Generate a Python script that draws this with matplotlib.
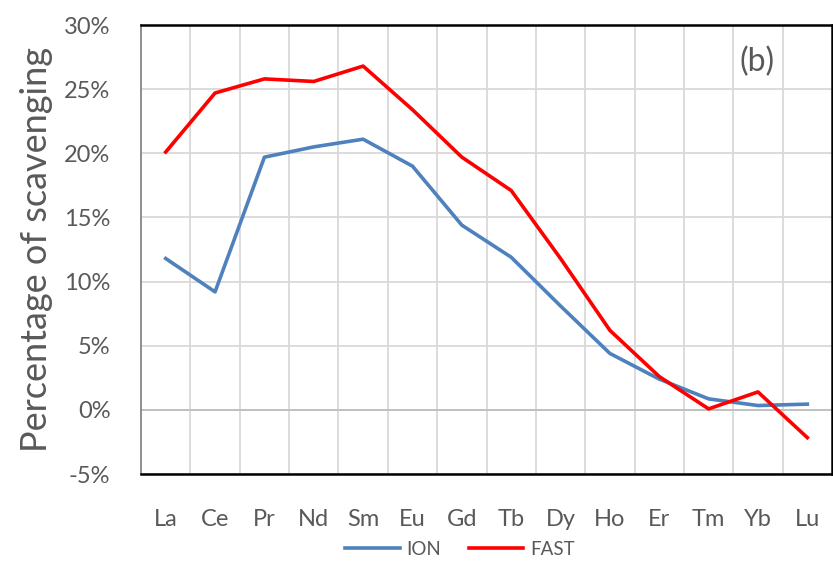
import numpy as np
import matplotlib.pyplot as plt
from matplotlib.ticker import FixedLocator, FuncFormatter

plt.rcParams['font.family'] = ['Lato', 'DejaVu Sans']

elements = ['La', 'Ce', 'Pr', 'Nd', 'Sm', 'Eu', 'Gd', 'Tb', 'Dy', 'Ho', 'Er', 'Tm', 'Yb', 'Lu']
ion = [11.8, 9.2, 19.7, 20.5, 21.1, 19.0, 14.4, 11.9, 8.1, 4.4, 2.4, 0.86, 0.34, 0.45]
fast = [20.1, 24.7, 25.8, 25.6, 26.8, 23.4, 19.7, 17.1, 11.8, 6.2, 2.6, 0.08, 1.4, -2.16]

text_col = '#595959'

fig = plt.figure(figsize=(8.33, 5.61), dpi=100)
ax = fig.add_axes([0.1693, 0.155, 0.8295, 0.8004])

x = np.arange(len(elements))
ax.plot(x, ion, color='#4F81BD', lw=2.6, label='ION', solid_joinstyle='round', zorder=3)
ax.plot(x, fast, color='#FF0000', lw=2.6, label='FAST', solid_joinstyle='round', zorder=4)

ax.set_xlim(-0.5, len(elements) - 0.5)
ax.set_ylim(-5, 30)
ax.set_xticks(x)
ax.set_xticklabels(elements, fontsize=17, color=text_col)
ax.xaxis.set_minor_locator(FixedLocator(np.arange(0.5, len(elements) - 1, 1)))
ax.set_yticks(np.arange(-5, 31, 5))
ax.yaxis.set_major_formatter(FuncFormatter(lambda v, p: f'{v:.0f}%'))
ax.tick_params(axis='y', labelsize=17, labelcolor=text_col, length=0, pad=22)
ax.tick_params(axis='x', which='both', length=0, pad=25)

ax.grid(axis='y', which='major', color='#d9d9d9', lw=1.3)
ax.grid(axis='x', which='minor', color='#d9d9d9', lw=1.3)
ax.axhline(0, color='#bfbfbf', lw=1.3, zorder=2)
ax.set_axisbelow(True)

for s in ['top', 'right', 'bottom']:
    ax.spines[s].set_color('black')
    ax.spines[s].set_linewidth(1.8)
ax.spines['left'].set_color('#868686')
ax.spines['left'].set_linewidth(1.3)

ax.set_ylabel('Percentage of scavenging', fontsize=26, color=text_col, labelpad=8)
ax.text(0.891, 0.918, '(b)', transform=ax.transAxes, fontsize=23, color=text_col,
        ha='center', va='center')

fig.legend(loc='lower center', bbox_to_anchor=(0.552, -0.024), ncol=2, frameon=False,
           fontsize=13.5, labelcolor=text_col, handlelength=2.9, columnspacing=1.5,
           handletextpad=0.35)

fig.savefig('out.png', dpi=100)
